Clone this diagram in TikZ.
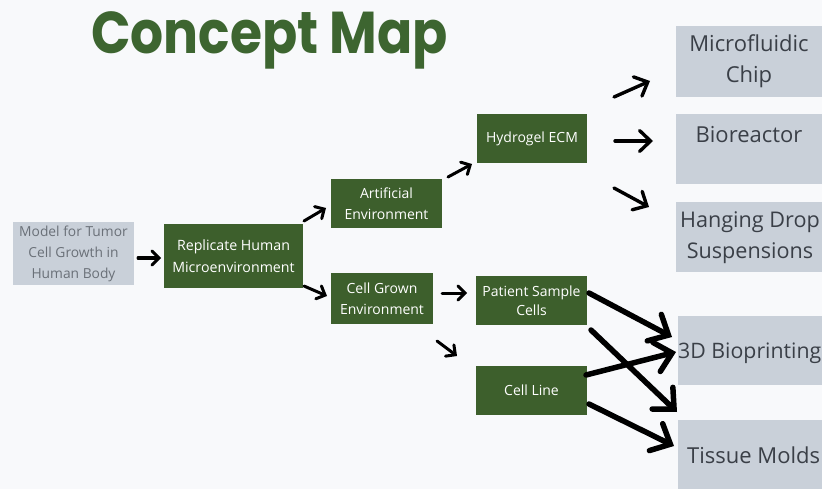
\documentclass[tikz,border=0pt]{standalone}
\usepackage{fontspec}
\setmainfont{Open Sans}
\newfontfamily\titlefont{Poppins}
\usetikzlibrary{arrows.meta}
\definecolor{bg}{HTML}{F8F9FB}
\definecolor{titlegreen}{HTML}{3D6530}
\definecolor{boxgreen}{HTML}{3D5F2C}
\definecolor{boxgray}{HTML}{C9D0D9}
\definecolor{graytext}{HTML}{6A7078}
\definecolor{darktext}{HTML}{3A3F47}
\tikzset{
  greenbox/.style={fill=boxgreen, text=white, inner sep=0pt, align=center, font=\fontsize{14}{21}\selectfont},
  graybox/.style={fill=boxgray, inner sep=0pt, align=center},
  arr/.style={-{Straight Barb[length=7pt,width=14pt,line cap=round]}, line width=3pt, line cap=round, black},
  medarr/.style={-{Straight Barb[length=11pt,width=21pt,line cap=round]}, line width=3.4pt, line cap=round, black},
  bigarr/.style={-{Straight Barb[length=16pt,width=30pt,line cap=round]}, line width=5.5pt, line cap=round, black},
}
\begin{document}
\begin{tikzpicture}[x=1pt,y=-1pt]
\useasboundingbox (0,0) rectangle (822,489);
\fill[bg] (0,0) rectangle (822,489);
\node[anchor=base west, inner sep=0pt, text=titlegreen, font=\titlefont\bfseries\fontsize{59}{60}\selectfont] (title) at (91,54) {\scalebox{0.88}[1]{Concept Map}};
% left boxes
\node[graybox, minimum width=121pt, minimum height=63pt, text=graytext, font=\fontsize{13.8}{21}\selectfont] (model) at (73.5,253.5) {Model for Tumor\\Cell Growth in\\Human Body};
\node[greenbox, minimum width=139pt, minimum height=64pt, font=\fontsize{14.2}{22}\selectfont] (repl) at (233.5,256) {Replicate Human\\Microenvironment};
\node[greenbox, minimum width=111pt, minimum height=49pt] (artif) at (386.5,203.5) {Artificial\\Environment};
\node[greenbox, minimum width=102pt, minimum height=51pt] (grown) at (382,298.5) {Cell Grown\\Environment};
\node[greenbox, minimum width=110pt, minimum height=49pt] (hydro) at (532,138.5) {Hydrogel ECM};
\node[greenbox, minimum width=111pt, minimum height=49pt, font=\fontsize{14}{19}\selectfont] (patient) at (531.5,300.5) {Patient Sample\\Cells};
\node[greenbox, minimum width=111pt, minimum height=49pt] (line) at (531.5,390.5) {Cell Line};
% right boxes
\begin{scope}[every node/.append style={text=darktext, font=\fontsize{22}{31}\selectfont}]
\node[graybox, minimum width=146pt, minimum height=71pt] (chip) at (749,61.5) {Microfluidic\\Chip};
\node[graybox, minimum width=146pt, minimum height=70pt] (biore) at (749,149) {};
\node[anchor=base, inner sep=0pt] (bioret) at (749,143) {Bioreactor};
\node[graybox, minimum width=146pt, minimum height=70pt] (hang) at (749,237) {};
\node[inner sep=0pt, align=center, font=\fontsize{21.6}{31}\selectfont] (hangt) at (750,238) {Hanging Drop\\Suspensions};
\node[graybox, minimum width=144pt, minimum height=69pt] (bio3d) at (750,350.5) {};
\node[anchor=base west, inner sep=0pt, font=\fontsize{21.3}{31}\selectfont] (bio3dt) at (678,358) {3D Bioprinting};
\node[graybox, minimum width=144pt, minimum height=69pt] (tissue) at (750,454.5) {};
\node[anchor=base west, inner sep=0pt] (tissuet) at (687,463) {Tissue Molds};
\end{scope}
% arrow endpoints
\coordinate (a1s) at (138,258); \coordinate (a1e) at (161,258);
\coordinate (a2s) at (304,221); \coordinate (a2e) at (326,208);
\coordinate (a3s) at (304,286); \coordinate (a3e) at (327,296);
\coordinate (a4s) at (448,177); \coordinate (a4e) at (472,164);
\coordinate (a8s) at (442,293); \coordinate (a8e) at (467,293);
\coordinate (a9s) at (437,341); \coordinate (a9e) at (457,356);
\coordinate (m5s) at (614,97); \coordinate (m5e) at (650,81);
\coordinate (m6s) at (615,141); \coordinate (m6e) at (653,141);
\coordinate (m7s) at (614,188); \coordinate (m7e) at (649,207);
\coordinate (b1s) at (589,293); \coordinate (b1e) at (672,337);
\coordinate (b2s) at (591,330); \coordinate (b2e) at (677,412);
\coordinate (b3s) at (586,375); \coordinate (b3e) at (676,352);
\coordinate (b4s) at (589,404); \coordinate (b4e) at (674,446);
\foreach \a in {a1,a2,a3,a4,a8,a9}{\draw[arr] (\a s) -- (\a e);}
\foreach \a in {m5,m6,m7}{\draw[medarr] (\a s) -- (\a e);}
\foreach \a in {b1,b2,b3,b4}{\draw[bigarr] (\a s) -- (\a e);}
\end{tikzpicture}
\end{document}
